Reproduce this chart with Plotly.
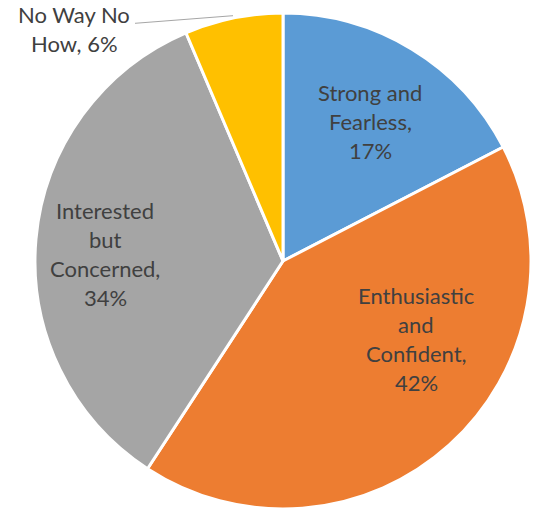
import plotly.graph_objects as go

labels = ["Strong and Fearless", "Enthusiastic and Confident", "Interested but Concerned", "No Way No How"]
values = [17.4, 41.8, 34.4, 6.4]
colors = ["#5B9BD5", "#ED7D31", "#A5A5A5", "#FFC000"]
# label line breaks as in the reference
label_lines = [["Strong and", "Fearless,"], ["Enthusiastic", "and", "Confident,"],
               ["Interested", "but", "Concerned,"], ["No Way No", "How,"]]

W, H = 536, 510
total = sum(values)

fig = go.Figure(go.Pie(
    labels=labels, values=values, sort=False, direction="clockwise", rotation=0,
    marker=dict(colors=colors, line=dict(color="white", width=3)),
    textinfo="none", hoverinfo="label+percent",
    domain=dict(x=[35 / W, 531 / W], y=[1 - 509 / H, 1 - 13 / H]),
    showlegend=False,
))

# label anchor positions (px): center x, first-line y, line spacing
label_pos = [(370, 92, 29), (416, 295, 29), (105, 210, 29), (74, 14, 29)]
annotations = []
for i, (lines, (cx, y0, dy)) in enumerate(zip(label_lines, label_pos)):
    pct = round(values[i] / total * 100)
    if i == 3:
        all_lines = [lines[0], lines[1] + " " + f"{pct}%"]
    else:
        all_lines = lines + [f"{pct}%"]
    for k, t in enumerate(all_lines):
        annotations.append(dict(
            text=t, x=cx / W, y=1 - (y0 + k * dy) / H, xref="paper", yref="paper",
            xanchor="center", yanchor="middle", showarrow=False,
            font=dict(family="Lato", size=22, color="#404040"),
        ))

fig.update_layout(
    width=W, height=H, margin=dict(l=0, r=0, t=0, b=0),
    paper_bgcolor="white", plot_bgcolor="white",
    annotations=annotations,
    shapes=[dict(type="line", xref="paper", yref="paper",
                 x0=135 / W, y0=1 - 23.3 / H, x1=233 / W, y1=1 - 15.7 / H,
                 line=dict(color="#A6A6A6", width=1))],
)
fig.write_html("out.html")
